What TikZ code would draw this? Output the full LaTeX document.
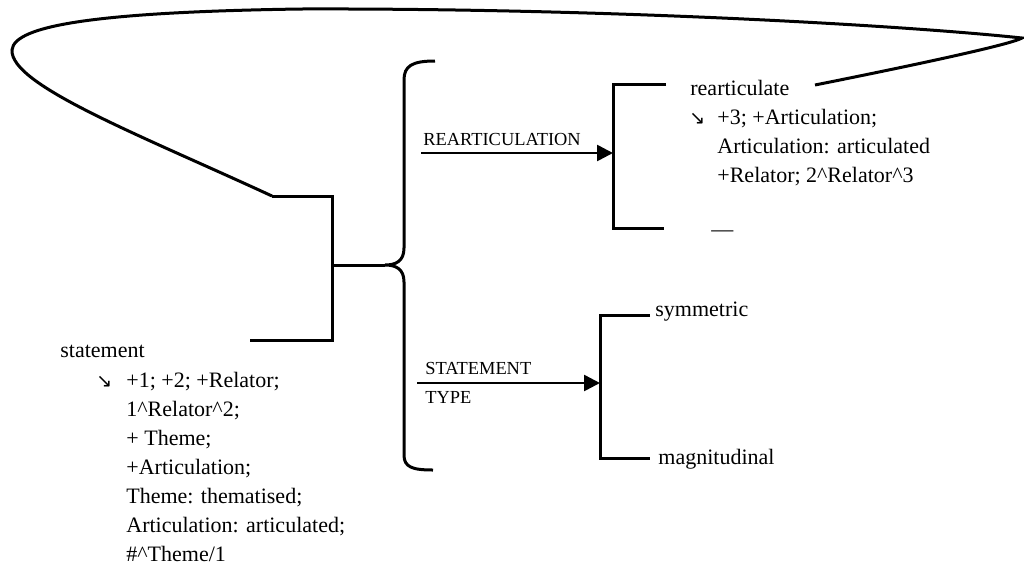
\documentclass[tikz,border=0pt]{standalone}
\usepackage{fontspec}
\setmainfont{Liberation Serif}
\newfontfamily\arrowfont{DejaVu Sans}
\usetikzlibrary{arrows.meta,positioning}

\begin{document}
\begin{tikzpicture}[x=0.5pt,y=-0.5pt]
\tikzset{
  textnode/.style={inner sep=0pt,anchor=base west,align=left,font=\fontsize{11}{14.5}\selectfont},
  featlabel/.style={inner sep=0pt,anchor=base west,font=\fontsize{9.2}{10}\selectfont},
  directed/.style={-{Triangle[length=8pt,width=8pt]},line width=1.3pt},
  bar/.style={line width=1.5pt},
  loopline/.style={line width=1.5pt}
}
\newcommand{\seArrow}[1]{\llap{{\arrowfont\fontsize{9.5}{10}\selectfont ↘}\hspace{#1}}}
\useasboundingbox (0,0) rectangle (1024,564);
% entry condition (multi-line nodes sit on their last baseline)
\node[textnode] (n_stmt) at (60,357) {statement};
\node[textnode] (n_stmtreal) at (126,561) {\seArrow{7pt}+1; +2; +Relator;\\
  1\textasciicircum Relator\textasciicircum 2;\\
  + Theme;\\
  +Articulation;\\
  Theme: thematised;\\
  Articulation: articulated;\\
  \#\textasciicircum Theme/1};
\coordinate (c_stmtbar) at (250,340);
\coordinate (c_fork) at (332,265);
\coordinate (c_loopstart) at (272,196);
\coordinate (c_tip) at (385,265);
\draw[bar] (c_stmtbar) -| (c_fork) |- (c_loopstart);
\draw[bar] (c_fork) -- (c_tip);
% brace
\draw[bar] (435,61) .. controls (412,61) and (404,66) .. (404,80) -- (404,248)
  .. controls (404,261) and (396,265) .. (c_tip)
  .. controls (396,265) and (404,269) .. (404,282) -- (404,455)
  .. controls (404,467) and (412,470) .. (433,470);
% rearticulation system
\node[featlabel] (n_rearclbl) at (423,145) {REARTICULATION};
\coordinate (c_rearc) at (421,153);
\coordinate (c_rearcbar) at (613,153);
\draw[directed] (c_rearc) -- (c_rearcbar);
\draw[bar] (666,84) -- (613,84) -- (613,228) -- (664,228);
\node[textnode] (n_rearticulate) at (690,95) {rearticulate};
\node[textnode] (n_rearcreal) at (717,182) {\seArrow{6pt}+3; +Articulation;\\
  Articulation: articulated\\
  +Relator; 2\textasciicircum Relator\textasciicircum 3};
\node[textnode] (n_noreartic) at (711,236) {---};
% statement type system
\node[featlabel] (n_typelbl) at (425,374) {STATEMENT};
\node[featlabel] (n_typelbl2) at (425,403) {TYPE};
\coordinate (c_type) at (417,383);
\coordinate (c_typebar) at (600,383);
\draw[directed] (c_type) -- (c_typebar);
\draw[bar] (650,315) -- (600,315) -- (600,458) -- (650,458);
\node[textnode] (n_symmetric) at (655,316) {symmetric};
\node[textnode] (n_magnitudinal) at (658,464) {magnitudinal};
% recursion loop
\coordinate (c_loopend) at (815,85);
\draw[loopline] (c_loopstart) .. controls (140,135) and (10,85) .. (12,50)
  .. controls (14,25) and (100,12) .. (300,9)
  .. controls (600,8) and (900,25) .. (1022,38)
  .. controls (1010,45) and (900,68) .. (c_loopend);
\end{tikzpicture}
\end{document}
